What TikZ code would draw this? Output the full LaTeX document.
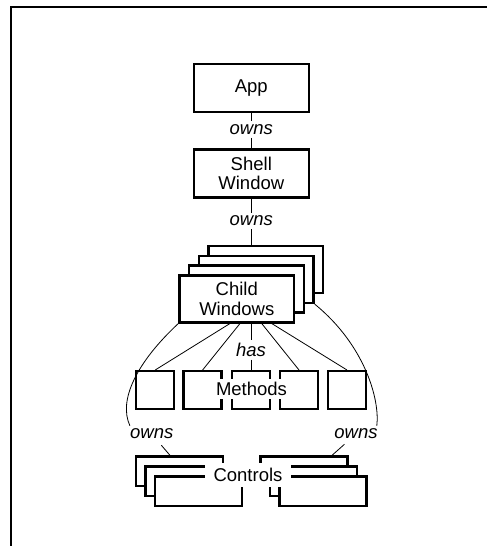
\documentclass[tikz,border=0pt]{standalone}
\usepackage{fontspec}
\setmainfont{Liberation Sans}
\begin{document}
\begin{tikzpicture}[x=1pt,y=-1pt,
  txt/.style={font=\fontsize{18.5}{19.5}\selectfont},
  box/.style={txt, draw, line width=2.4pt, fill=white, inner sep=0pt, align=center},
  bigbox/.style={box, minimum width=115pt, minimum height=48pt},
  childbox/.style={box, minimum width=114.5pt, minimum height=47pt},
  methbox/.style={box, minimum width=38pt, minimum height=37.6pt},
  ctrlbox/.style={box, minimum width=87pt, minimum height=29.5pt},
  lbl/.style={txt, font=\fontsize{18.5}{19.5}\selectfont\itshape, inner sep=3pt},
  cover/.style={txt, fill=white},
  conn/.style={line width=0.8pt}]
\useasboundingbox (0,0) rectangle (487,546);

% frame
\draw[line width=2.4pt] (11,546) |- (487,7);

% top of the hierarchy
\node[bigbox] (app) at (251.3,87.8) {App};
\node[lbl] (owns1) at (251.3,129.5) {owns};
\node[bigbox] (shell) at (251.3,173.3) {Shell\\Window};
\node[lbl] (owns2) at (251.3,221) {owns};

% stack of child windows, back to front
\foreach \i/\n in {3/cw4,2/cw3,1/cw2}
  \node[childbox] (\n) at ({236.8+9.7*\i},{298.8-9.7*\i}) {};
\node[childbox] (cw1) at (236.8,298.8) {Child\\Windows};

\draw[conn] (app) -- (owns1) -- (shell);
\draw[conn] (shell) -- (owns2) -- (owns2 |- cw4.north);

% methods row
\foreach \x/\n in {155.2/m1,202.6/m2,251/m3,299/m4,347/m5}
  \node[methbox] (\n) at (\x,390) {};
\node[lbl] (has) at (251,349.7) {has};

\draw[conn] (has |- cw1.south) -- (has) -- (m3);
\draw[conn] ([xshift=-6.8pt]cw1.south) -- (m1.north);
\draw[conn] ([xshift=3.2pt]cw1.south) -- (m2.north);
\draw[conn] ([xshift=24.9pt]cw1.south) -- (m4.north);
\draw[conn] ([xshift=34.9pt]cw1.south) -- (m5.north);

\node[cover, inner xsep=1pt, inner ysep=3.5pt] (methods) at (251.5,389) {Methods};

% ownership of the controls
\node[lbl] (owns3) at (151.7,434) {owns};
\node[lbl] (owns4) at (356,434) {owns};

\draw[conn] (cw1.south west) .. controls (137,362) and (118,400) .. ([xshift=3pt]owns3.north west);
\draw[conn] (cw3.south east) .. controls (365,345) and (380,400) .. ([xshift=-4pt]owns4.north east);

% stacks of controls
\node[ctrlbox] (cl1) at (179.4,471.3) {};
\node[ctrlbox] (cl2) at (188.9,481.2) {};
\node[ctrlbox] (cl3) at (198.4,491.1) {};
\node[ctrlbox] (cr1) at (303.9,471.3) {};
\node[ctrlbox] (cr2) at (313.4,481.2) {};
\node[ctrlbox] (cr3) at (322.9,491.1) {};

\draw[conn, shorten <=4pt] (owns3) -- ([xshift=-9.4pt]cl1.north);
\draw[conn, shorten <=3pt] (owns4) -- ([xshift=28.1pt]cr1.north);

\node[cover, inner xsep=9pt, inner ysep=5.5pt] (controls) at (248,475) {Controls};
\end{tikzpicture}
\end{document}
